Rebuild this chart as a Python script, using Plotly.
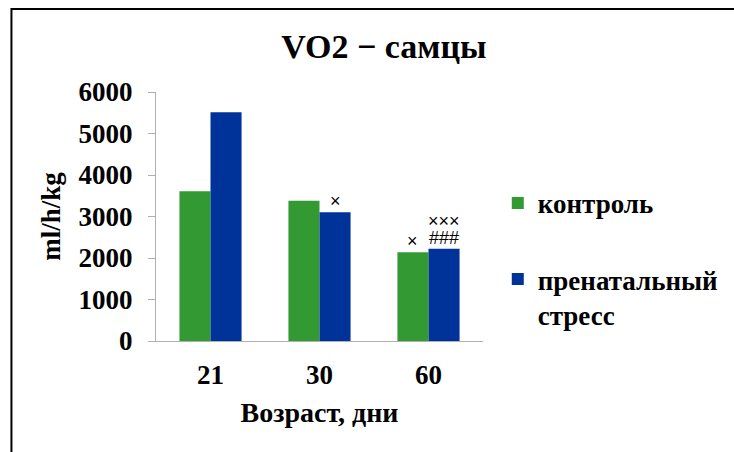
import plotly.graph_objects as go

# Age groups (days) and VO2 values, ml/h/kg
ages = ["21", "30", "60"]
control = [3610, 3380, 2140]
stress = [5510, 3100, 2225]
# significance marks above each bar, listed from the top line down
control_marks = [[], [], ["×"]]
stress_marks = [[], ["×"], ["×××", "###"]]
y_ticks = [0, 1000, 2000, 3000, 4000, 5000, 6000]

serif = "Liberation Serif"
sans = "Liberation Sans"
GREEN = "#339933"
BLUE = "#003399"

fig = go.Figure()
fig.add_trace(go.Bar(
    x=ages, y=control, name="контроль",
    marker=dict(color=GREEN, line=dict(width=0)), legendgroup="a",
))
fig.add_trace(go.Bar(
    x=ages, y=stress, name="пренатальный<br>стресс",
    marker=dict(color=BLUE, line=dict(width=0)), legendgroup="b",
))

# Significance marks, stacked above the bar tops (x is the category index)
BAR_HALF = 15.6
for values, marks, dx in ((control, control_marks, -BAR_HALF),
                          (stress, stress_marks, BAR_HALF)):
    for idx, (val, lines) in enumerate(zip(values, marks)):
        for i, line in enumerate(reversed(lines)):
            fig.add_annotation(
                x=idx, y=val, xref="x", yref="y", text=line,
                showarrow=False, xshift=dx, yanchor="bottom",
                yshift=-1 + 17 * i,
                font=dict(family=sans, size=18, color="black"),
            )

fig.update_layout(
    width=734, height=452,
    margin=dict(l=156, r=250, t=92, b=111),
    paper_bgcolor="white", plot_bgcolor="white",
    barmode="group", bargap=0.43, bargroupgap=0,
    font=dict(family=serif, color="black"),
    title=dict(text="VO2 − самцы", x=0.523, xanchor="center",
               y=1 - 46 / 452, yanchor="middle", xref="container",
               yref="container",
               font=dict(family=serif, size=34, weight="bold")),
    showlegend=True,
    legend=dict(x=1.042, y=0.33, xanchor="left", yanchor="middle",
                font=dict(family=serif, size=27, weight="bold"),
                valign="top", tracegroupgap=38,
                bgcolor="rgba(0,0,0,0)"),
    xaxis=dict(
        type="category", categoryorder="array", categoryarray=ages,
        range=[-0.5, len(ages) - 0.5], autorange=False,
        showline=True, linecolor="#b0b0b0", linewidth=1,
        ticks="", showgrid=False,
        tickfont=dict(family=serif, size=27, weight="bold"),
        ticklabelstandoff=10,
        title=dict(text="Возраст, дни", standoff=12,
                   font=dict(family=serif, size=28, weight="bold")),
    ),
    yaxis=dict(
        range=[0, 6000], autorange=False, tickvals=y_ticks,
        showline=True, linecolor="#b0b0b0", linewidth=1,
        ticks="outside", ticklen=7, tickcolor="#b0b0b0",
        showgrid=False, zeroline=False,
        tickfont=dict(family=serif, size=27, weight="bold"),
        ticklabelstandoff=10,
        title=dict(text="ml/h/kg", standoff=10,
                   font=dict(family=serif, size=27, weight="bold")),
    ),
)

# Frame around the figure
fig.add_shape(type="rect", xref="paper", yref="paper",
              x0=(11 - 156) / 328, x1=(745 - 156) / 328,
              y0=(341 - 470) / 249, y1=(341 - 9) / 249,
              line=dict(color="black", width=2), fillcolor="rgba(0,0,0,0)",
              layer="below")

fig.write_html("out.html")
